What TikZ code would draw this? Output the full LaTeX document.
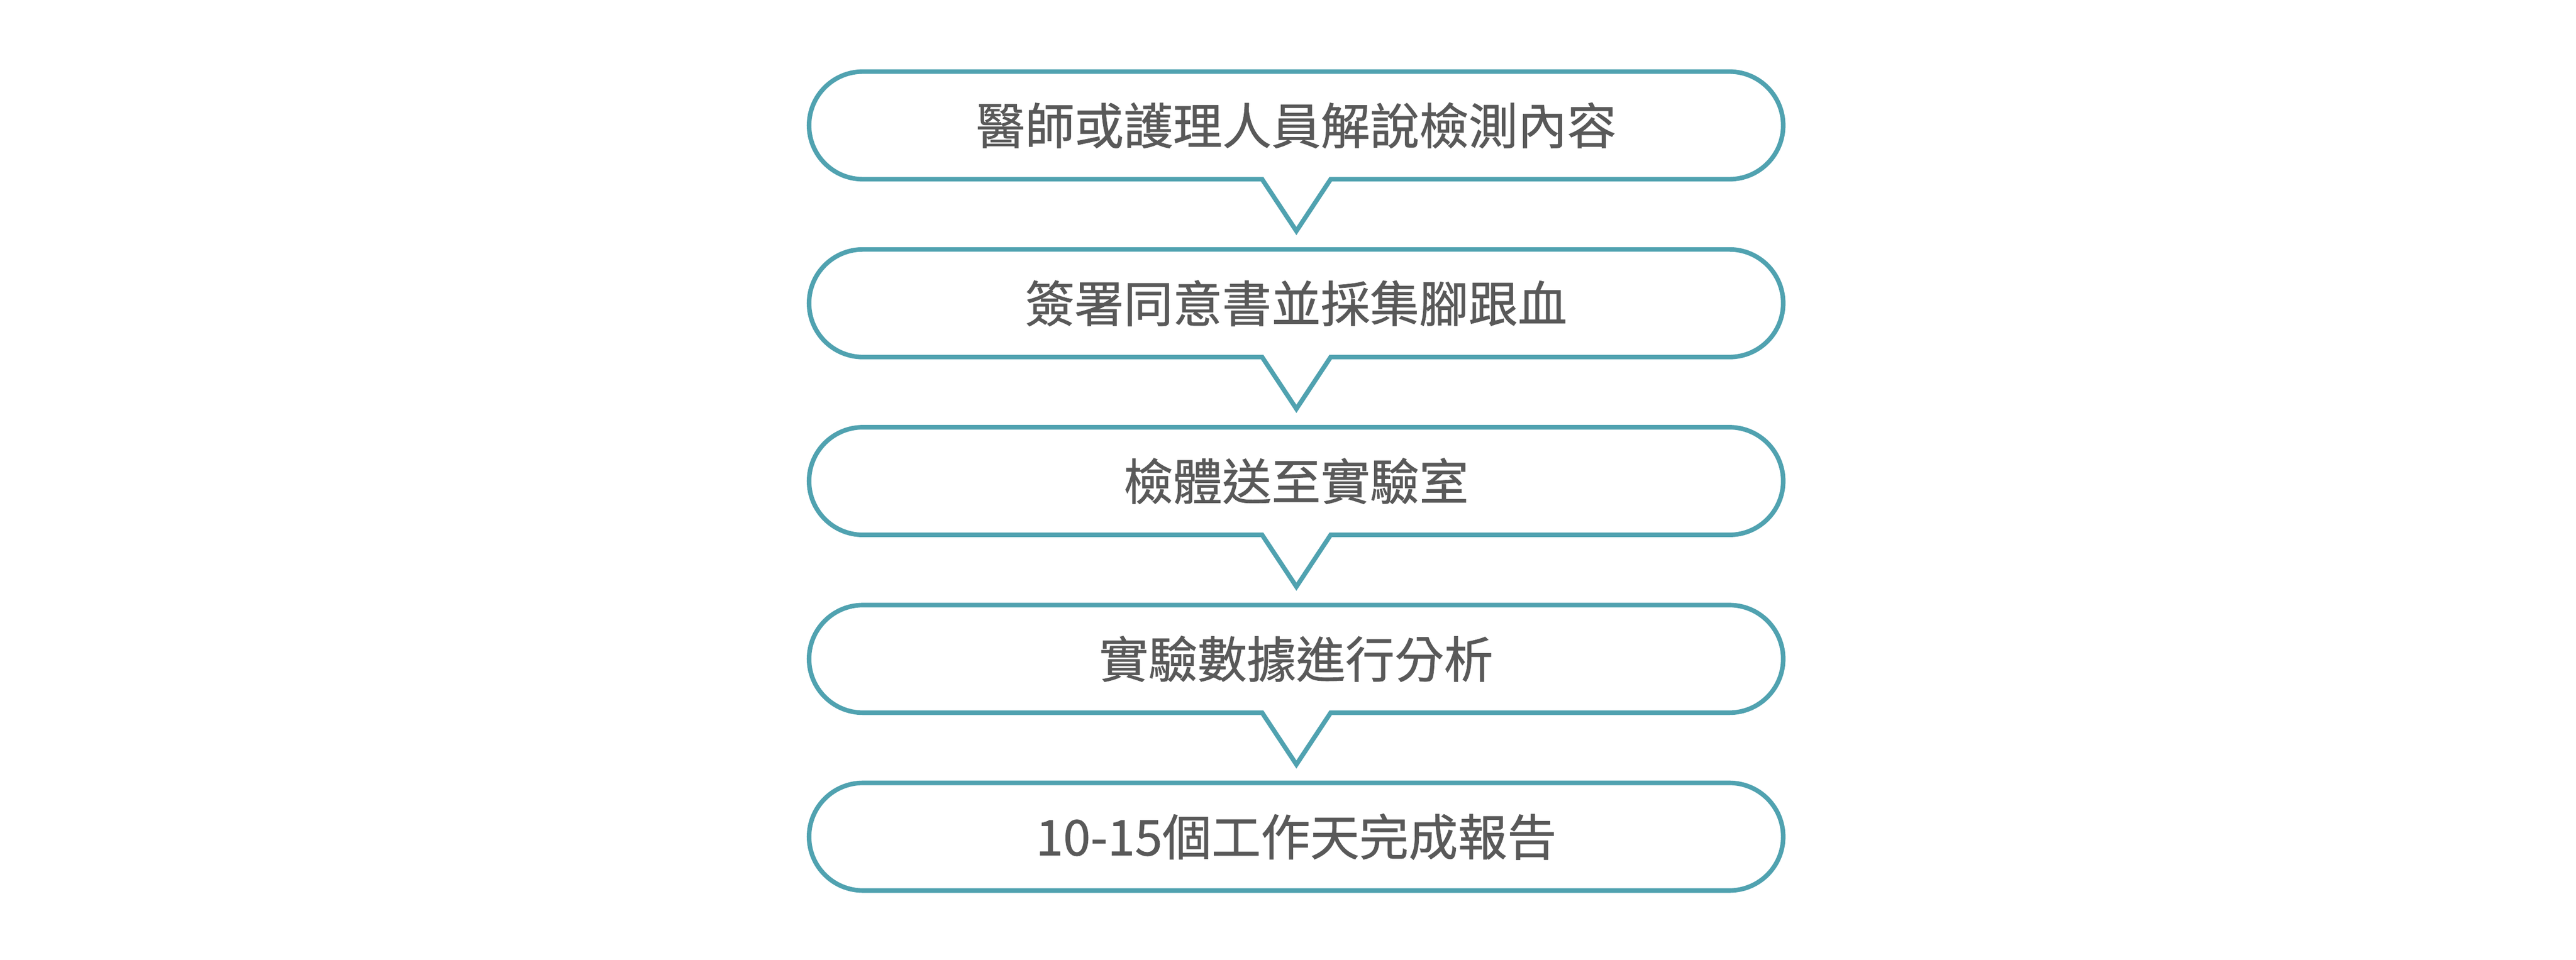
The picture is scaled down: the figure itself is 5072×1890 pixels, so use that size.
\documentclass[tikz,border=0pt]{standalone}
\usepackage{fontspec}
\setmainfont{Noto Sans CJK TC}[FakeBold=0.8]
\definecolor{tealline}{RGB}{80,162,176}
\definecolor{textgray}{RGB}{89,89,89}
\tikzset{
  outline/.style={draw=tealline, line width=4.5pt, line join=miter},
  steptext/.style={text=textgray, font=\fontsize{48.5pt}{50pt}\selectfont, inner sep=0pt, anchor=center}
}
\begin{document}
\begin{tikzpicture}[x=0.5pt,y=0.5pt]
\useasboundingbox[fill=white] (0,0) rectangle (5072,-1890);
% boxes with notches (1-4)
\foreach \i in {0,1,2,3}{
  \pgfmathsetmacro{\T}{-(141+350.25*\i)}
  \pgfmathsetmacro{\B}{\T-212}
  \pgfmathsetmacro{\P}{\B-102}
  \draw[outline] (1699,\T) -- (3405,\T) arc[start angle=90,end angle=-90,radius=106]
    -- (2620,\B) -- (2552.5,\P) -- (2485,\B) -- (1699,\B)
    arc[start angle=270,end angle=90,radius=106] -- cycle;
}
% last box
\draw[outline] (1699,-1542) -- (3405,-1542) arc[start angle=90,end angle=-90,radius=106]
  -- (1699,-1754) arc[start angle=270,end angle=90,radius=106] -- cycle;
% texts
\node[steptext] (s1) at (2552,-247) {醫師或護理人員解說檢測內容};
\node[steptext] (s2) at (2552,-597.25) {簽署同意書並採集腳跟血};
\node[steptext] (s3) at (2552,-947.5) {檢體送至實驗室};
\node[steptext] (s4) at (2552,-1297.75) {實驗數據進行分析};
\node[steptext] (s5) at (2552,-1648) {10-15個工作天完成報告};
\end{tikzpicture}
\end{document}
